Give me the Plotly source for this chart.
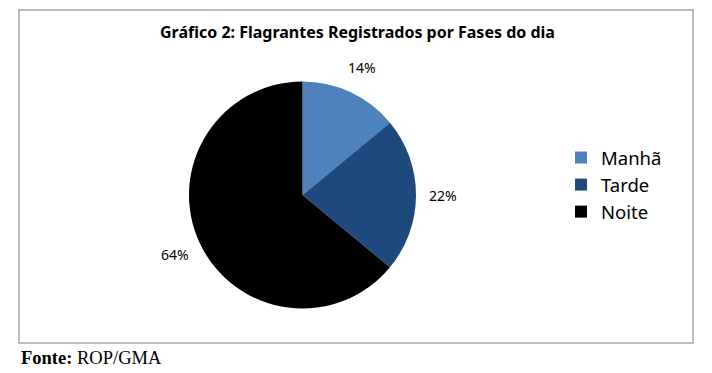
import numpy as np
import plotly.graph_objects as go

W, H = 712, 373

categories = ["Manhã", "Tarde", "Noite"]
values = [14, 22, 64]
colors = ["#4F81BD", "#1F497D", "#000000"]
title_text = "Gráfico 2: Flagrantes Registrados por Fases do dia"
source_text = "<b>Fonte:</b> ROP/GMA"

# pie geometry in pixels
cx, cy, R = 302.5, 195.0, 113.5

def px(x):
    return x / W

def py(y):
    return 1 - y / H

fig = go.Figure()
fig.add_trace(go.Pie(
    labels=categories,
    values=values,
    marker=dict(colors=colors, line=dict(width=0)),
    sort=False,
    direction="clockwise",
    rotation=0,
    textinfo="none",
    hoverinfo="label+percent",
    domain=dict(x=[px(cx - R), px(cx + R)], y=[py(cy + R), py(cy - R)]),
))

# percentage labels placed outside the slices
vals = np.array(values, dtype=float)
frac = vals / vals.sum()
cum = np.cumsum(frac) - frac / 2
annotations = []
for f, c in zip(frac, cum):
    th = 2 * np.pi * c
    lx = cx + 1.24 * R * np.sin(th)
    ly = cy - 1.24 * R * np.cos(th)
    annotations.append(dict(
        x=px(lx), y=py(ly), xref="paper", yref="paper",
        text=f"{round(f * 100):.0f}%", showarrow=False,
        font=dict(family="Noto Sans", size=14, color="#000000"),
        xanchor="center", yanchor="middle",
    ))

annotations.append(dict(
    x=px(357), y=py(32), xref="paper", yref="paper", text=f"<b>{title_text}</b>",
    showarrow=False, font=dict(family="Noto Sans", size=16, color="#000000"),
    xanchor="center", yanchor="middle",
))
annotations.append(dict(
    x=px(19), y=py(358), xref="paper", yref="paper", text=source_text,
    showarrow=False, font=dict(family="Liberation Serif", size=18.5, color="#000000"),
    xanchor="left", yanchor="middle",
))

fig.update_layout(
    width=W, height=H,
    margin=dict(l=0, r=0, t=0, b=0),
    paper_bgcolor="#ffffff",
    plot_bgcolor="#ffffff",
    showlegend=True,
    legend=dict(
        x=px(561), y=py(139), xanchor="left", yanchor="top",
        font=dict(family="Noto Sans", size=18.5, color="#000000"),
        itemclick=False, tracegroupgap=0,
    ),
    annotations=annotations,
    shapes=[dict(
        type="rect", xref="paper", yref="paper",
        x0=px(19), x1=px(693), y0=py(343), y1=py(10),
        line=dict(color="#A6A6A6", width=1.5),
    )],
)

fig.write_html("out.html")
